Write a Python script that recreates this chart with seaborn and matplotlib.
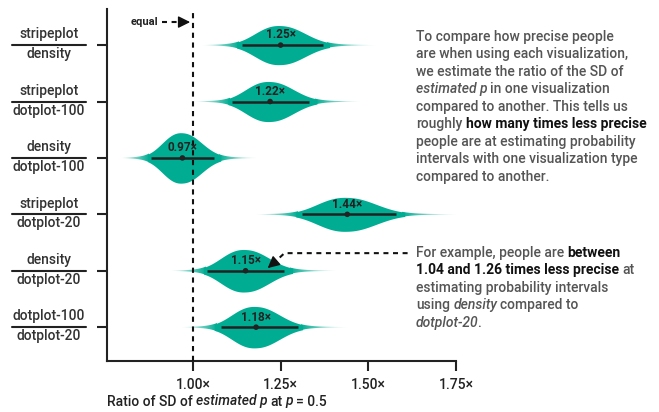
import numpy as np
import matplotlib
matplotlib.use("Agg")
import matplotlib.pyplot as plt
import seaborn as sns
from matplotlib.patches import Polygon
from matplotlib.transforms import blended_transform_factory

# Pairwise comparisons: numerator / denominator visualization
numerators = ["stripeplot", "stripeplot", "density", "stripeplot", "density", "dotplot-100"]
denominators = ["density", "dotplot-100", "dotplot-100", "dotplot-20", "dotplot-20", "dotplot-20"]

# Posterior median and 95% interval of the SD ratio
medians = [1.25, 1.22, 0.97, 1.44, 1.15, 1.18]
lower = [1.14, 1.11, 0.88, 1.31, 1.04, 1.08]
upper = [1.37, 1.33, 1.06, 1.58, 1.26, 1.30]

x_ticks = [1.00, 1.25, 1.50, 1.75]
x_tick_labels = ["1.00×", "1.25×", "1.50×", "1.75×"]

TEAL = "#00ad93"
INK = "#222222"
GREY = "#555555"
FS = 10
WT = "medium"

sns.set_theme(style="white")
plt.rcParams["font.family"] = ["Roboto", "DejaVu Sans"]

W, H = 659, 412
fig = plt.figure(figsize=(W / 100, H / 100), dpi=100)
ax = fig.add_axes([107 / W, 51 / H, 349 / W, 352 / H])
renderer = fig.canvas.get_renderer()

rows = np.arange(len(medians))
K = 0.4326  # slab height scale (data units at ratio 1.0)


def slab_shape(z):
    core = np.exp(-(np.abs(z) / 0.811) ** 2.27)
    tail = 0.035 * np.exp(-(np.abs(z) / 1.9) ** 6)
    return (core + tail) / 1.035


def tail_alpha(z):
    return np.clip((2.15 - np.abs(z)) / 1.05, 0, 1)


Z_EDGE = 2.2
for i, (m, lo, hi) in enumerate(zip(medians, lower, upper)):
    mu = np.log(m)
    hw = (np.log(hi) - np.log(lo)) / 2
    z = np.linspace(-Z_EDGE, Z_EDGE, 600)
    x = np.exp(mu + hw * z)
    h = K * slab_shape(z) / x

    # solid body
    body = np.abs(z) <= 1.15
    xb, hb = x[body], h[body]
    ax.fill_between(xb, i - hb, i + hb, color=TEAL, lw=0, zorder=2)

    # fading tails, clipped to the slab outline
    outline = Polygon(np.column_stack([np.r_[x, x[::-1]], np.r_[i - h, (i + h)[::-1]]]),
                      closed=True, facecolor="none", edgecolor="none", transform=ax.transData)
    ax.add_patch(outline)
    hmax = h.max()
    for za, zb in [(-Z_EDGE, -1.1), (1.1, Z_EDGE)]:
        x0, x1 = np.exp(mu + hw * za), np.exp(mu + hw * zb)
        xs = np.linspace(x0, x1, 300)
        zs = (np.log(xs) - mu) / hw
        rgba = np.zeros((1, 300, 4))
        rgba[..., :3] = matplotlib.colors.to_rgb(TEAL)
        rgba[..., 3] = tail_alpha(zs)
        im = ax.imshow(rgba, extent=[x0, x1, i + hmax, i - hmax], aspect="auto",
                       interpolation="bilinear", zorder=2)
        im.set_clip_path(outline)

# 95% intervals and medians
ax.hlines(rows, lower, upper, color=INK, lw=1.8, zorder=4)
sns.scatterplot(x=medians, y=rows, ax=ax, color=INK, s=16, edgecolor="none",
                legend=False, zorder=5)
for i, m in enumerate(medians):
    ax.text(m, i - 0.18, f"{m:.2f}×", ha="center", va="center", fontsize=8.5,
            fontweight="bold", color=INK, zorder=6)

# reference line at equal precision
ax.axvline(1.0, color="#111111", lw=1.5, ls=(0, (2.5, 2.2)), zorder=5)

ax.set_xlim(0.755, 1.75)
ax.set_ylim(5.6, -0.64)
ax.set_xticks(x_ticks)
ax.set_xticklabels(x_tick_labels, fontsize=FS, color=INK, fontweight=WT)
ax.set_yticks(rows)
ax.set_yticklabels([])
ax.tick_params(axis="both", length=7.5, width=1.5, color=INK, pad=5)
ax.tick_params(axis="y", left=True)
ax.tick_params(axis="x", bottom=True)
for side in ["top", "right"]:
    ax.spines[side].set_visible(False)
for side in ["left", "bottom"]:
    ax.spines[side].set_color(INK)
    ax.spines[side].set_linewidth(1.5)

# fraction-style row labels
trans = blended_transform_factory(ax.transAxes, ax.transData)
for i, (num, den) in enumerate(zip(numerators, denominators)):
    ax.plot([-0.272, -0.060], [i, i], transform=trans, clip_on=False, color=INK, lw=1.5)
    ax.annotate(num, xy=(-0.166, i), xycoords=trans, xytext=(0, 4.8),
                textcoords="offset points", ha="center", va="baseline",
                fontsize=FS, color="#333333", fontweight=WT)
    ax.annotate(den, xy=(-0.166, i), xycoords=trans, xytext=(0, -9.4),
                textcoords="offset points", ha="center", va="baseline",
                fontsize=FS, color="#333333", fontweight=WT)


def text_width(s, **kw):
    t = fig.text(0, 0, s, **kw)
    w = t.get_window_extent(renderer).width
    t.remove()
    return w


def rich_line(x_px, y_px, pieces, size, base_color):
    """Draw a line made of differently styled runs, separated by spaces."""
    x = x_px
    space = (text_width("x x", fontsize=size, fontweight=WT)
             - text_width("xx", fontsize=size, fontweight=WT))
    prev_italic = False
    for k, (s, weight, style, color) in enumerate(pieces):
        if prev_italic:
            x -= 1.2
        if k > 0 and s[0] not in ".,":
            x += space
        t = fig.text(x / W, 1 - y_px / H, s, fontsize=size, fontweight=weight,
                     fontstyle=style, color=color or base_color, ha="left", va="baseline")
        x += t.get_window_extent(renderer).width
        prev_italic = style == "italic"


N, B, I = (WT, "normal"), ("bold", "normal"), (WT, "italic")


def run(s, kind, color=None):
    return (s, kind[0], kind[1], color)


# x-axis title
rich_line(107, 405.5, [run("Ratio of SD of", N), run("estimated p", I), run("at", N),
                       run("p", I), run("= 0.5", N)], FS, INK)

# explanatory notes
note1 = [
    [run("To compare how precise people", N)],
    [run("are when using each visualization,", N)],
    [run("we estimate the ratio of the SD of", N)],
    [run("estimated p", I), run("in one visualization", N)],
    [run("compared to another. This tells us", N)],
    [run("roughly", N), run("how many times less precise", B, "#111111")],
    [run("people are at estimating probability", N)],
    [run("intervals with one visualization type", N)],
    [run("compared to another.", N)],
]
for k, line in enumerate(note1):
    rich_line(416, 40.7 + 17.5 * k, line, FS, GREY)

note2 = [
    [run("For example, people are", N), run("between", B, "#111111")],
    [run("1.04 and 1.26 times less precise", B, "#111111"), run("at", N)],
    [run("estimating probability intervals", N)],
    [run("using", N), run("density", I), run("compared to", N)],
    [run("dotplot-20", I), run(".", N)],
]
for k, line in enumerate(note2):
    rich_line(416, 256.7 + 17.5 * k, line, FS, GREY)

# "equal" marker
ax.text(0.901, -0.41, "equal", ha="right", va="center", fontsize=8, fontweight="bold",
        color=INK, clip_on=False)
ax.plot([0.912, 0.968], [-0.408, -0.408], color="#111111", lw=1.5, ls=(0, (2.4, 2.2)),
        clip_on=False)
ax.annotate("", xy=(0.992, -0.408), xytext=(0.966, -0.408),
            arrowprops=dict(arrowstyle="-|>,head_length=0.6,head_width=0.3",
                            mutation_scale=12, lw=1.0, color="#111111",
                            shrinkA=0, shrinkB=0), annotation_clip=False)

# pointer from the example note to the density / dotplot-20 slab
ax.plot([1.612, 1.261, 1.236], [3.688, 3.688, 3.83], color="#111111", lw=1.5,
        ls=(0, (2.4, 2.2)), clip_on=False, solid_joinstyle="miter")
ax.annotate("", xy=(1.213, 3.954), xytext=(1.238, 3.82),
            arrowprops=dict(arrowstyle="-|>,head_length=0.6,head_width=0.3",
                            mutation_scale=12, lw=1.0, color="#111111",
                            shrinkA=0, shrinkB=0), annotation_clip=False)

fig.savefig("out.png", dpi=100, facecolor="white")
